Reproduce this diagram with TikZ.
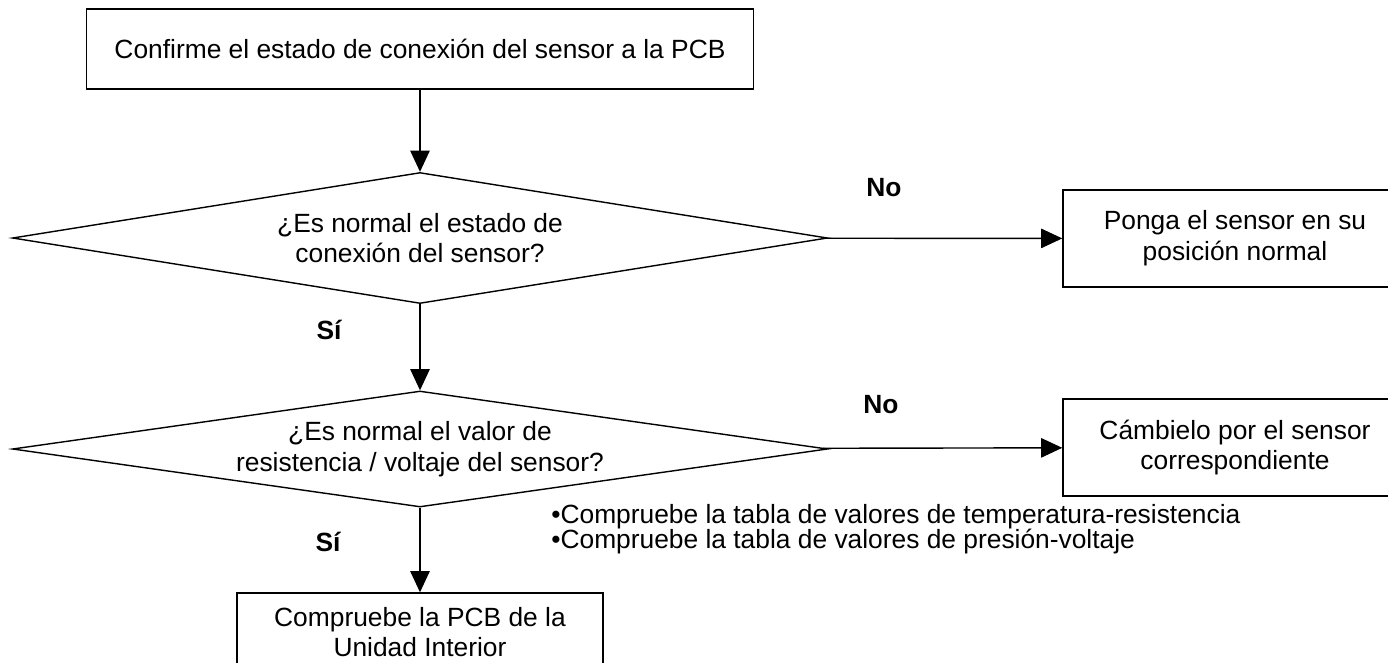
\documentclass[tikz,border=0pt]{standalone}
\usepackage{fontspec}
\setmainfont{Liberation Sans}
\usetikzlibrary{positioning,shapes.geometric,arrows.meta}

\begin{document}
\begin{tikzpicture}[
                % Style of the boxes and decisions
                boxnode/.style={rectangle, draw=black, line width=0.8pt, align=center, inner sep=0pt, font=\fontsize{15}{17.5}\selectfont},
                decnode/.style={diamond, draw=black, line width=0.8pt, align=center, inner sep=0pt, aspect=7, minimum width=16.3cm, font=\fontsize{15}{17.5}\selectfont},
                % Style of the connectors
                flowedge/.style={-{Triangle[length=12pt,width=11pt]}, draw=black, line width=0.8pt},
                % Style of the texts
                anslabel/.style={font=\bfseries\fontsize{15}{17}\selectfont, inner sep=0pt},
                notetext/.style={font=\fontsize{15}{14.5}\selectfont, align=left, inner sep=0pt, anchor=west}
            ]
                \useasboundingbox (0,0) rectangle (27.76,-13.24);
                \clip (0,0) rectangle (27.76,-13.24);

                % --- NODES ---
                \node[boxnode, minimum width=13.34cm, minimum height=1.6cm] (start) at (8.4,-0.98) {Confirme el estado de conexión del sensor a la PCB};

                \node[decnode, minimum height=2.62cm] (conn) at (8.4,-4.76) {¿Es normal el estado de\\conexión del sensor?};
                \node[boxnode, minimum width=6.88cm, minimum height=1.94cm] (fixpos) at (24.7,-4.77) {Ponga el sensor en su\\posición normal};

                \node[decnode, minimum height=2.32cm] (value) at (8.4,-8.98) {¿Es normal el valor de\\resistencia / voltaje del sensor?};
                \node[boxnode, minimum width=6.88cm, minimum height=1.94cm] (swap) at (24.7,-8.95) {Cámbielo por el sensor\\correspondiente};

                \node[boxnode, minimum width=7.32cm, minimum height=1.56cm] (pcb) at (8.4,-12.64) {Compruebe la PCB de la\\Unidad Interior};

                % --- CONNECTORS ---
                \draw[flowedge] (start) -- (conn);
                \draw[flowedge] (conn) -- (fixpos);
                \draw[flowedge] (conn) -- (value);
                \draw[flowedge] (value) -- (swap);
                \draw[flowedge] (value) -- (pcb);

                % --- LABELS ---
                \node[anslabel] (no1) at (17.68,-3.76) {No};
                \node[anslabel] (si1) at (6.58,-6.6) {Sí};
                \node[anslabel] (no2) at (17.62,-8.1) {No};
                \node[anslabel] (si2) at (6.56,-10.84) {Sí};

                % Note on the tables
                \node[notetext] (note) at (11.02,-10.58) {•Compruebe la tabla de valores de temperatura-resistencia\\•Compruebe la tabla de valores de presión-voltaje};

            \end{tikzpicture}
\end{document}
